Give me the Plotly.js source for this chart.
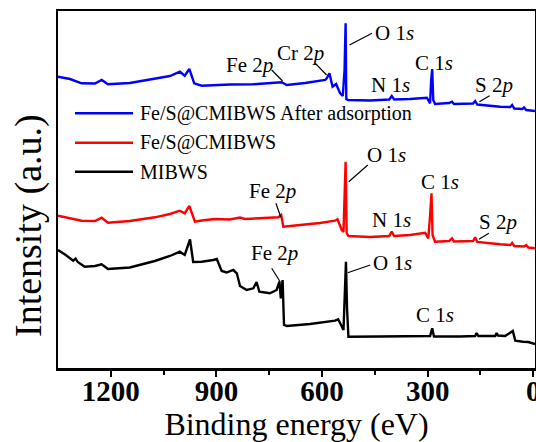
<!DOCTYPE html>
<html>
<head>
<meta charset="utf-8">
<script src="https://cdn.plot.ly/plotly-3.0.1.min.js"></script>
<style>html,body{margin:0;padding:0;background:#fff;}#chart{width:536px;height:442px;}</style>
</head>
<body>
<div id="chart"></div>
<script>
// Binding energy (eV) and intensity (a.u.)
var beAfter = [1350,1316,1283,1245,1226,1208,1146,1075,1032,1004,990,977,963,942,904,862,796,748,715,700,648,591,586,579,570,560,549,541,536,533,531,526,463,409,402,395,350,302,293,290,287,284,279,239,231,225,171,165,159,94,65,60,54,31,26,20,-5];
var intAfter = [291.3,289,284.7,284.5,288,283.7,285,289,292,296.3,292.3,299,284.7,282.3,283,283.5,283.7,284.5,285.7,283,285,288,290,294.7,281.3,284,275,272,298,344.7,269,268,267.5,268.5,272,268.5,269,270.3,264.7,288,299,268,264,265,266.3,264,264.5,267,263.5,261.3,261,263,259.5,259,260.5,258,257];

var beFeS = [1350,1316,1283,1245,1226,1208,1146,1075,1032,1004,990,977,961,942,904,862,833,819,790,748,724,716,710,662,606,563,556,544,539,533,530,525,463,409,402,395,350,307,298,293,289,286,279,239,231,225,171,165,159,94,65,60,54,26,20,14,-5];
var intFeS = [152.3,150,147.3,147,150.3,145.3,147,150.7,154,157.3,154.7,162,146.3,147.5,149,148.5,150.5,149,149.7,150,150.7,153,141.3,143,145,147.3,148.7,138,136,206.3,135,132,131,132,136.3,132,133,135.3,129.7,153,174.7,133,126.3,127,129.7,126.5,127,130.7,126,123.7,123,125,122,121.5,123,120.5,119.7];

var beMIBWS = [1350,1328,1307,1300,1294,1274,1245,1226,1208,1146,1075,1032,1004,990,975,966,942,918,909,899,885,871,852,842,833,814,795,786,778,748,729,721,717,712,708,700,634,563,554,539,535,532,529,525,435,321,293,287,282,208,165,161,156,108,104,100,80,58,51,29,14,-5];
var intMIBWS = [118,113,107.3,109.5,106,101.3,102,103.7,99,100.5,107,112,116.3,113,128.5,106,106.3,107,108,109,97,95.5,98,94.7,82,78,79.7,86,76.3,74.7,78,86.3,69.7,88,43,42,44,47.3,48.7,38,68,106.3,60,31.3,31.5,32,32,39.7,31.5,31.5,32,35,32,32,35,32.5,32,37,27.3,26.3,26,24];

var seriesNames = ['Fe/S@CMIBWS After adsorption', 'Fe/S@CMIBWS', 'MIBWS'];
var seriesColors = ['#0000ff', '#ff0000', '#000000'];

var tickVals = [1200, 900, 600, 300, 0];
var tickText = ['1200', '900', '600', '300', '0'];

// peak labels: [text, BE, intensity]
var peakLabels = [
  ['Fe 2<i>p</i>', 807, 303], ['Cr 2<i>p</i>', 660, 314.7], ['O 1<i>s</i>', 394, 335.3],
  ['C 1<i>s</i>', 281, 304.7], ['N 1<i>s</i>', 405, 283], ['S 2<i>p</i>', 112, 283],
  ['Fe 2<i>p</i>', 741, 177], ['O 1<i>s</i>', 418, 213], ['C 1<i>s</i>', 265, 186.3],
  ['N 1<i>s</i>', 404, 148], ['S 2<i>p</i>', 100, 146.3],
  ['Fe 2<i>p</i>', 736, 114.7], ['O 1<i>s</i>', 401, 104.7], ['C 1<i>s</i>', 279, 53]
];
// leader lines: [BE0, I0, BE1, I1]
var leaders = [
  [743, 298, 712, 287], [619, 304.7, 587, 293], [522, 323, 458, 334.7], [153, 266.3, 124, 272.3],
  [731, 164.7, 717, 150.7], [524, 186.3, 470, 203], [154, 128.7, 126, 134.7],
  [743, 99.7, 719, 86.3], [527, 95.3, 463, 103]
];

var font = 'Liberation Serif, Times New Roman, serif';
var xs = [beAfter, beFeS, beMIBWS];
var ys = [intAfter, intFeS, intMIBWS];
var traces = [];
for (var i = 0; i < 3; i++) {
  traces.push({
    x: xs[i], y: ys[i], type: 'scatter', mode: 'lines', name: seriesNames[i],
    showlegend: false,
    line: {color: seriesColors[i], width: 2.4}
  });
}

var annotations = peakLabels.map(function (p) {
  return {x: p[1], y: p[2], xref: 'x', yref: 'y', text: p[0], showarrow: false,
    font: {family: font, size: 21, color: '#000'}, xanchor: 'center', yanchor: 'middle'};
});
var shapes = leaders.map(function (l) {
  return {type: 'line', xref: 'x', yref: 'y', x0: l[0], y0: l[1], x1: l[2], y1: l[3],
    line: {color: '#000', width: 1.2}};
});

// legend (drawn with long sample lines as in the reference)
var plotL = 58, plotW = 477, plotT = 11, plotH = 357;
var legendRows = [113.3, 142.7, 171.7];
for (var k = 0; k < 3; k++) {
  var yp = (plotT + plotH - legendRows[k]) / plotH;
  shapes.push({type: 'line', xref: 'paper', yref: 'paper',
    x0: (75 - plotL) / plotW, x1: (133 - plotL) / plotW, y0: yp, y1: yp,
    line: {color: seriesColors[k], width: 2.6}});
  annotations.push({xref: 'paper', yref: 'paper', x: (138 - plotL) / plotW, y: yp,
    xanchor: 'left', yanchor: 'middle', showarrow: false, text: seriesNames[k],
    font: {family: font, size: 20, color: '#000'}});
}
// y-axis title
annotations.push({xref: 'paper', yref: 'paper', x: (28 - plotL) / plotW, y: (plotT + plotH - 226) / plotH,
  xanchor: 'center', yanchor: 'middle', textangle: -90, showarrow: false,
  text: 'Intensity (a.u.)', font: {family: font, size: 38, color: '#000'}});

var layout = {
  width: 536, height: 442,
  margin: {l: 58, r: 1, t: 11, b: 74},
  paper_bgcolor: '#fff', plot_bgcolor: '#fff',
  font: {family: font, color: '#000'},
  showlegend: false,
  xaxis: {
    range: [1350, -5], showgrid: false, zeroline: false,
    showline: true, linecolor: '#000', linewidth: 2.5, mirror: true,
    ticks: 'outside', ticklen: 6, tickwidth: 2, tickcolor: '#000',
    tickvals: tickVals, ticktext: tickText, ticklabeloverflow: 'allow',
    ticklabelstandoff: -10,
    tickfont: {family: font, size: 29, color: '#000', weight: 'bold'},
    minor: {tickvals: [1050, 750, 450, 150], ticks: 'outside', ticklen: 4, tickwidth: 2, tickcolor: '#000'},
    title: {text: 'Binding energy (eV)', font: {family: font, size: 32, color: '#000'}, standoff: 5}
  },
  yaxis: {
    range: [0, 357], showgrid: false, zeroline: false, showticklabels: false, ticks: '',
    showline: true, linecolor: '#000', linewidth: 2.5, mirror: true
  },
  annotations: annotations,
  shapes: shapes
};

Plotly.newPlot('chart', traces, layout, {displayModeBar: false, staticPlot: true});
</script>
</body>
</html>
